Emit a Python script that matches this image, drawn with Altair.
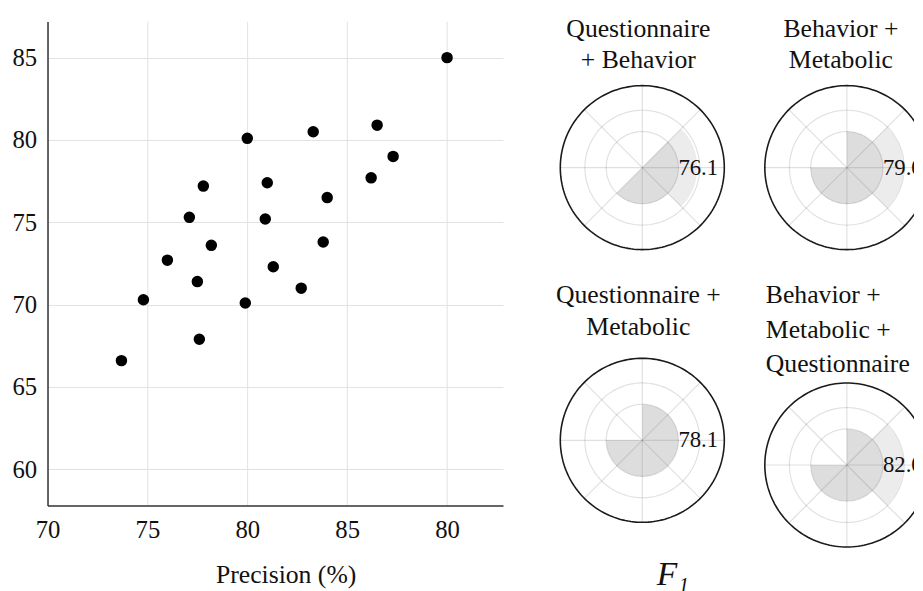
import math
import altair as alt
import pandas as pd

SERIF = "Liberation Serif"

# ---------------- scatter data ----------------
precision = [90.0, 80.0, 83.3, 86.5, 87.3, 86.2, 84.0, 81.0, 77.8, 77.1, 80.9,
             78.2, 83.8, 76.0, 81.3, 77.5, 82.7, 74.8, 79.9, 77.6, 73.7]
score = [85.0, 80.1, 80.5, 80.9, 79.0, 77.7, 76.5, 77.4, 77.2, 75.3, 75.2,
         73.6, 73.8, 72.7, 72.3, 71.4, 71.0, 70.3, 70.1, 67.9, 66.6]
x_ticks = [70, 75, 80, 85, 90]
x_tick_labels = ["70", "75", "80", "85", "80"]
y_ticks = [60, 65, 70, 75, 80, 85]

# ---------------- polar data ----------------
panel_titles = [["Questionnaire", "+ Behavior"],
                ["Behavior +", "Metabolic"],
                ["Questionnaire +", "Metabolic"],
                ["Behavior +", "Metabolic +", "Questionnaire"]]
f1_scores = ["76.1", "79.0", "78.1", "82.0"]
# 8 sectors of 45 deg, clockwise from north
outer_sector_r = [[0, 67, 67, 0, 0, 0, 0, 0],
                  [0, 69, 69, 0, 0, 0, 0, 0],
                  [0, 0, 0, 0, 0, 0, 0, 0],
                  [0, 69, 69, 0, 0, 0, 0, 0]]
inner_sector_r = [[0, 44, 44, 44, 44, 0, 0, 0],
                  [44, 44, 44, 44, 44, 44, 0, 0],
                  [44, 44, 44, 44, 44, 44, 0, 0],
                  [44, 44, 44, 44, 44, 44, 0, 0]]
ring_r = [44, 70]
border_r = [100]
spoke_angles = [0, 45, 90, 135, 180, 225, 270, 315]
label_r = 44

# ---------------- scatter ----------------
label_expr = " : ".join(
    f"datum.value == {v} ? '{l}'" for v, l in zip(x_ticks, x_tick_labels)
) + " : datum.label"

sdf = pd.DataFrame({"precision": precision, "score": score})
scatter = alt.Chart(sdf).mark_circle(size=135, color="black", opacity=1).encode(
    x=alt.X("precision:Q",
            scale=alt.Scale(domain=[70, 92.8], nice=False, zero=False),
            axis=alt.Axis(values=x_ticks, labelExpr=label_expr, title="Precision (%)",
                          titlePadding=20, titleX=241, labelFlush=False)),
    y=alt.Y("score:Q",
            scale=alt.Scale(domain=[57.8, 87.2], nice=False, zero=False),
            axis=alt.Axis(values=y_ticks, title=None, labelPadding=11, labelFlush=False)),
).properties(width=461, height=490)

# ---------------- polar panels ----------------
R_PX = 83.0          # pixel radius of the outer circle (value 100)
U = R_PX / 100.0     # pixels per radial unit
theta_scale = alt.Scale(domain=[0, 360], range=[0, 2 * math.pi])
r_scale = alt.Scale(type="linear", domain=[0, 100], range=[0, R_PX], zero=True)


def circles(values, xs, ys, **style):
    return alt.Chart(pd.DataFrame({"r": values})).transform_calculate(
        deg="sequence(0, 362, 2)"
    ).transform_flatten(["deg"]).transform_calculate(
        cx="datum.r * sin(datum.deg * PI / 180)",
        cy="datum.r * cos(datum.deg * PI / 180)",
    ).mark_line(clip=True, **style).encode(
        x=alt.X("cx:Q", scale=xs, axis=None),
        y=alt.Y("cy:Q", scale=ys, axis=None),
        detail="r:N",
        order="deg:Q",
    )


def polar_panel(k, w, h, cx, cy, title):
    xs = alt.Scale(domain=[-cx / U, (w - cx) / U], nice=False, zero=False)
    ys = alt.Scale(domain=[-(h - cy) / U, cy / U], nice=False, zero=False)
    cxe = alt.X(datum=0, scale=xs, axis=None)
    cye = alt.Y(datum=0, scale=ys, axis=None)

    sec = pd.DataFrame({
        "t0": [45 * i for i in range(8)],
        "t1": [45 * (i + 1) for i in range(8)],
        "ro": outer_sector_r[k],
        "ri": inner_sector_r[k],
    })
    base = alt.Chart(sec)
    outer = base.mark_arc(color="#ececec", clip=True).encode(
        x=cxe, y=cye,
        theta=alt.Theta("t0:Q", scale=theta_scale, stack=False),
        theta2=alt.Theta2("t1"),
        radius=alt.Radius("ro:Q", scale=r_scale),
    )
    inner = base.mark_arc(color="#dddddd", clip=True).encode(
        x=cxe, y=cye,
        theta=alt.Theta("t0:Q", scale=theta_scale, stack=False),
        theta2=alt.Theta2("t1"),
        radius=alt.Radius("ri:Q", scale=r_scale),
    )
    rings = circles(ring_r, xs, ys, stroke="#000000", strokeOpacity=0.12, strokeWidth=1.2)
    spokes = alt.Chart(pd.DataFrame({"a": spoke_angles})).transform_calculate(
        x0="0", y0="0",
        x1="100 * sin(datum.a * PI / 180)",
        y1="100 * cos(datum.a * PI / 180)",
    ).mark_rule(stroke="#000000", strokeOpacity=0.12, strokeWidth=1.2, clip=True).encode(
        x=alt.X("x0:Q", scale=xs, axis=None),
        y=alt.Y("y0:Q", scale=ys, axis=None),
        x2=alt.X2("x1"),
        y2=alt.Y2("y1"),
    )
    border = circles(border_r, xs, ys, stroke="#1a1a1a", strokeWidth=1.6)
    label = alt.Chart(pd.DataFrame({"label": [f1_scores[k]], "lx": [label_r], "ly": [0]})).mark_text(
        align="left", baseline="middle", font=SERIF, fontSize=23, color="#111111", clip=True
    ).encode(
        x=alt.X("lx:Q", scale=xs, axis=None),
        y=alt.Y("ly:Q", scale=ys, axis=None),
        text="label:N",
    )
    return alt.layer(outer, inner, rings, spokes, border, label).properties(
        width=w, height=h, title=title,
    )


def ptitle(k, anchor, dx, line_h, offset):
    return alt.TitleParams(panel_titles[k], anchor=anchor, dx=dx, lineHeight=line_h,
                           offset=offset, font=SERIF, fontSize=26,
                           fontWeight="normal", color="#111111")


p1 = polar_panel(0, 184, 234, 92, 148, ptitle(0, "middle", -4, 31, -52))
p2 = polar_panel(1, 160, 234, 92, 148, ptitle(1, "middle", 6, 31, -52))
p3 = polar_panel(2, 184, 172, 92, 86, ptitle(2, "middle", -4, 32, 16))
p4 = polar_panel(3, 160, 172, 92, 86, ptitle(3, "start", 10, 35, 3))

col1 = alt.vconcat(p1, p3, spacing=28).properties(
    title=alt.TitleParams("F₁", orient="bottom", anchor="middle", dx=31, offset=33,
                          font=SERIF, fontSize=34, fontStyle="italic",
                          fontWeight="normal", color="#111111")
)
col2 = alt.vconcat(p2, p4, spacing=28)

chart = alt.hconcat(scatter, alt.hconcat(col1, col2, spacing=21), spacing=47).properties(
    padding={"left": 3, "top": 4, "right": 0, "bottom": 0}
).configure_view(stroke="transparent").configure_axis(
    labelFont=SERIF, labelFontSize=25, labelColor="#111111",
    titleFont=SERIF, titleFontSize=26, titleFontWeight="normal", titleColor="#111111",
    domainColor="#333333", domainWidth=1.5, ticks=False,
    gridColor="#e2e2e2", gridWidth=1, labelPadding=12,
)

chart.save("out.html", embed_options={"renderer": "svg", "actions": False})
